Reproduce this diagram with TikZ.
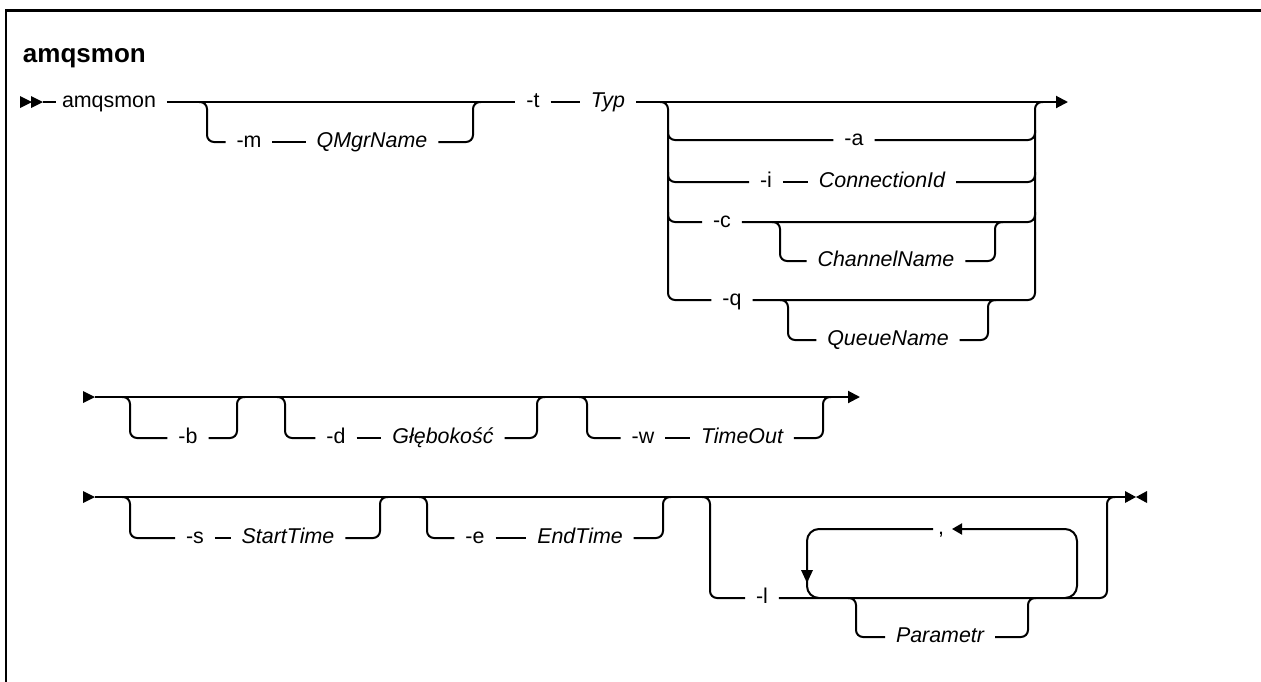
\documentclass[tikz,border=0pt]{standalone}
\usepackage{fontspec}
\setmainfont{Liberation Sans}
\usetikzlibrary{arrows.meta}
\tikzset{
  lbl/.style={font=\fontsize{21.4}{24}\selectfont, inner xsep=10pt, inner ysep=0pt, text height=15pt, text depth=4.1pt, anchor=center},
  var/.style={lbl, font=\fontsize{21.4}{24}\selectfont\itshape},
  ttl/.style={font=\fontsize{26}{30}\selectfont\bfseries, inner sep=0pt, anchor=base west},
  rnd/.style={rounded corners=7pt},
  lp/.style={rounded corners=12pt},
  endarrow/.style={-{Triangle[length=12pt,width=12pt]}},
  looparrow/.style={-{Triangle[length=10pt,width=11pt]}}
}
\begin{document}
\begin{tikzpicture}[x=1pt,y=-1pt,line width=2pt,line join=round]
\useasboundingbox (0,0) rectangle (1261,681);
% frame
\draw[line width=2.7pt,line join=miter] (6,690) -- (6,10.7) -- (1270,10.7);
% title
\node[ttl] (title) at (22,62) {amqsmon};

% ---------------- row 1 ----------------
\coordinate (r1s) at (43,102);
\fill (20,96) -- (32,102) -- (20,108) -- cycle;
\fill (31,96) -- (43,102) -- (31,108) -- cycle;
\node[lbl] (amq) at (109,102) {amqsmon};
\node[lbl] (t) at (533,102) {-t};
\node[var] (typ) at (608,102) {Typ};
\coordinate (r1e) at (1068,102);
\draw (r1s) -- ([xshift=5pt]amq.west);
\draw (amq.east) -- (t.west);
\draw (t.east) -- (typ.west);
\draw[endarrow] (typ.east) -- (r1e);
% -m QMgrName
\node[lbl] (m) at (249,142) {-m};
\node[var] (qmgr) at (372,142) {QMgrName};
\draw[rnd] (199,102) -- (207,102) -- (207,142) -- (m.west);
\draw (m.east) -- (qmgr.west);
\draw[rnd] (qmgr.east) -- (473,142) -- (473,102) -- (481,102);
% big choice
\node[lbl] (a) at (854,140) {-a};
\node[lbl] (i) at (766,182) {-i};
\node[var] (connid) at (882,182) {ConnectionId};
\node[lbl] (c) at (722,222) {-c};
\node[var] (chan) at (886,261) {ChannelName};
\node[lbl] (q) at (732,300) {-q};
\node[var] (queue) at (888,340) {QueueName};
\draw[rnd] (660,102) -- (668,102) -- (668,300) -- (q.west);
\draw[rnd] (q.east) -- (1035,300) -- (1035,102) -- (1043,102);
\draw[rnd] (668,130) -- (668,140) -- (a.west);
\draw[rnd] (a.east) -- (1035,140) -- (1035,130);
\draw[rnd] (668,172) -- (668,182) -- (i.west);
\draw (i.east) -- (connid.west);
\draw[rnd] (connid.east) -- (1035,182) -- (1035,172);
\draw[rnd] (668,212) -- (668,222) -- (c.west);
\draw[rnd] (c.east) -- (1035,222) -- (1035,212);
\draw[rnd] (772,222) -- (780,222) -- (780,261) -- (chan.west);
\draw[rnd] (chan.east) -- (995,261) -- (995,222) -- (1003,222);
\draw[rnd] (780,300) -- (788,300) -- (788,340) -- (queue.west);
\draw[rnd] (queue.east) -- (988,340) -- (988,300) -- (996,300);

% ---------------- row 2 ----------------
\coordinate (r2s) at (95,397);
\coordinate (r2e) at (860,397);
\fill (83,391) -- (95,397) -- (83,403) -- cycle;
\draw[endarrow] (r2s) -- (r2e);
\node[lbl] (b) at (188,438) {-b};
\draw[rnd] (122,397) -- (130,397) -- (130,438) -- (b.west);
\draw[rnd] (b.east) -- (237,438) -- (237,397) -- (245,397);
\node[lbl] (d) at (336,438) {-d};
\node[var] (glab) at (443,438) {Głębokość};
\draw[rnd] (277,397) -- (285,397) -- (285,438) -- (d.west);
\draw (d.east) -- (glab.west);
\draw[rnd] (glab.east) -- (537,438) -- (537,397) -- (545,397);
\node[lbl] (w) at (643,438) {-w};
\node[var] (tout) at (742,438) {TimeOut};
\draw[rnd] (579,397) -- (587,397) -- (587,438) -- (w.west);
\draw (w.east) -- (tout.west);
\draw[rnd] (tout.east) -- (823,438) -- (823,397) -- (831,397);

% ---------------- row 3 ----------------
\coordinate (r3s) at (95,497);
\coordinate (r3e) at (1126,497);
\fill (83,491) -- (95,497) -- (83,503) -- cycle;
\draw (r3s) -- (r3e);
\fill (1125,491) -- (1136,497) -- (1125,503) -- cycle;
\fill (1147,491) -- (1136,497) -- (1147,503) -- cycle;
\node[lbl] (s) at (195,538) {-s};
\node[var] (stt) at (288,538) {StartTime};
\draw[rnd] (122,497) -- (130,497) -- (130,538) -- (s.west);
\draw (s.east) -- (stt.west);
\draw[rnd] (stt.east) -- (380,538) -- (380,497) -- (388,497);
\node[lbl] (e) at (475,538) {-e};
\node[var] (ent) at (580,538) {EndTime};
\draw[rnd] (419,497) -- (427,497) -- (427,538) -- (e.west);
\draw (e.east) -- (ent.west);
\draw[rnd] (ent.east) -- (663,538) -- (663,497) -- (671,497);
\node[lbl] (l) at (762,598) {-l};
\draw[rnd] (702,497) -- (710,497) -- (710,598) -- (l.west);
\draw[rnd] (l.east) -- (1107,598) -- (1107,497) -- (1115,497);
% repeat loop
\node[lbl,inner xsep=4pt] (comma) at (941,529) {,};
\coordinate (ltip) at (952,529);
\draw[lp,looparrow] (1065,598) -- (1077,598) -- (1077,529) -- (ltip);
\draw[lp] (comma.west) -- (807,529) -- (807,598) -- (819,598);
\fill (801,570) -- (813,570) -- (807,583) -- cycle;
\node[var] (par) at (940,637) {Parametr};
\draw[rnd] (848,598) -- (856,598) -- (856,637) -- (par.west);
\draw[rnd] (par.east) -- (1028,637) -- (1028,598) -- (1036,598);
\end{tikzpicture}
\end{document}
